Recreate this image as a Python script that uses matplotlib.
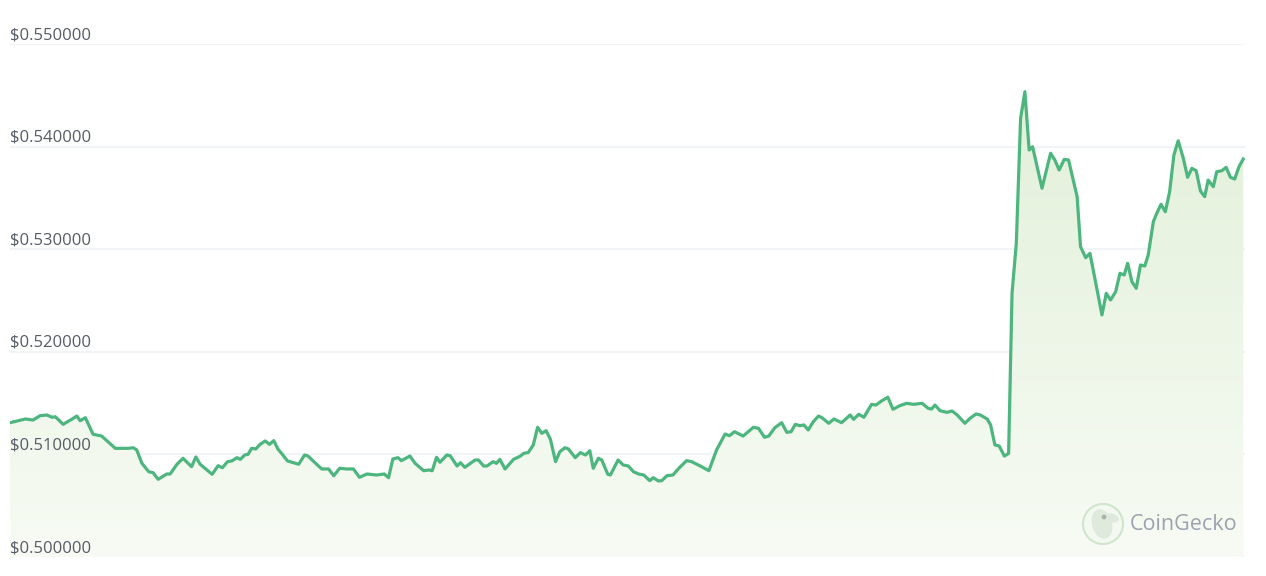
import matplotlib.pyplot as plt
import numpy as np
from matplotlib.patches import Circle, Ellipse
from matplotlib.colors import LinearSegmentedColormap

# Price data (minutes into the 24h window, USD)
minutes = [0, 18, 27, 35, 43, 49, 53, 62, 72, 78, 82, 88, 97, 107, 123, 138, 144, 148,
           154, 162, 167, 173, 183, 187, 195, 202, 212, 217, 222, 236, 243, 248, 254, 259,
           265, 269, 274, 278, 282, 287, 292, 298, 303, 308, 313, 317, 324, 337, 344, 348,
           358, 364, 372, 378, 385, 393, 401, 408, 417, 428, 437, 442, 447, 453, 457, 467,
           473, 483, 489, 493, 498, 502, 510, 514, 522, 526, 531, 543, 547, 553, 557, 564,
           568, 572, 578, 588, 596, 600, 605, 611, 616, 621, 626, 631, 637, 642, 648, 652,
           660, 666, 672, 677, 681, 687, 691, 698, 701, 710, 716, 722, 728, 734, 740, 747,
           751, 757, 761, 767, 774, 781, 790, 796, 806, 816, 825, 835, 840, 846, 856, 862,
           868, 874, 881, 886, 893, 901, 907, 912, 917, 922, 927, 932, 938, 944, 948, 956,
           962, 971, 981, 985, 991, 997, 1006, 1011, 1018, 1025, 1031, 1039, 1047, 1055,
           1065, 1072, 1076, 1080, 1086, 1094, 1100, 1106, 1115, 1121, 1128, 1133, 1141,
           1145, 1150, 1155, 1161, 1166, 1170, 1175, 1180, 1185, 1190, 1194, 1205, 1215,
           1220, 1225, 1231, 1236, 1246, 1250, 1256, 1261, 1275, 1280, 1285, 1291, 1296,
           1301, 1305, 1310, 1315, 1320, 1325, 1329, 1335, 1339, 1344, 1349, 1354, 1359,
           1364, 1370, 1375, 1380, 1385, 1390, 1395, 1399, 1405, 1409, 1415, 1420, 1425,
           1430, 1435, 1440]
prices = [0.51309, 0.51345, 0.51335, 0.51377, 0.51384, 0.51362, 0.51367, 0.51293, 0.51342,
          0.51374, 0.51328, 0.51358, 0.51196, 0.51179, 0.51059, 0.51059, 0.51065, 0.51043,
          0.50913, 0.50831, 0.50822, 0.50757, 0.50809, 0.50809, 0.50904, 0.50962, 0.50880,
          0.50975, 0.50904, 0.50806, 0.50890, 0.50870, 0.50929, 0.50936, 0.50968, 0.50952,
          0.50994, 0.51001, 0.51059, 0.51053, 0.51098, 0.51131, 0.51098, 0.51134, 0.51050,
          0.51011, 0.50936, 0.50904, 0.50994, 0.50984, 0.50904, 0.50858, 0.50858, 0.50792,
          0.50865, 0.50858, 0.50858, 0.50777, 0.50809, 0.50799, 0.50809, 0.50773, 0.50955,
          0.50968, 0.50939, 0.50984, 0.50913, 0.50841, 0.50848, 0.50841, 0.50972, 0.50923,
          0.50994, 0.50987, 0.50887, 0.50919, 0.50874, 0.50945, 0.50945, 0.50887, 0.50887,
          0.50929, 0.50913, 0.50952, 0.50858, 0.50952, 0.50984, 0.51011, 0.51017, 0.51092,
          0.51264, 0.51206, 0.51231, 0.51147, 0.50929, 0.51026, 0.51065, 0.51053, 0.50968,
          0.51017, 0.50994, 0.51036, 0.50865, 0.50962, 0.50945, 0.50806, 0.50799, 0.50945,
          0.50897, 0.50887, 0.50831, 0.50809, 0.50799, 0.50744, 0.50773, 0.50741, 0.50744,
          0.50792, 0.50799, 0.50865, 0.50939, 0.50929, 0.50887, 0.50841, 0.51043, 0.51199,
          0.51182, 0.51221, 0.51179, 0.51221, 0.51264, 0.51254, 0.51167, 0.51179, 0.51260,
          0.51309, 0.51215, 0.51221, 0.51293, 0.51280, 0.51287, 0.51238, 0.51319, 0.51374,
          0.51358, 0.51303, 0.51345, 0.51309, 0.51384, 0.51342, 0.51391, 0.51362, 0.51488,
          0.51481, 0.51523, 0.51557, 0.51440, 0.51475, 0.51498, 0.51488, 0.51498, 0.51449,
          0.51442, 0.51481, 0.51426, 0.51410, 0.51423, 0.51384, 0.51303, 0.51352, 0.51394,
          0.51384, 0.51345, 0.51287, 0.51092, 0.51082, 0.50984, 0.51009, 0.52570, 0.53058,
          0.54276, 0.54535, 0.53967, 0.53999, 0.53594, 0.53935, 0.53869, 0.53772, 0.53876,
          0.53869, 0.53512, 0.53024, 0.52917, 0.52960, 0.52359, 0.52570, 0.52505, 0.52586,
          0.52765, 0.52749, 0.52863, 0.52683, 0.52619, 0.52846, 0.52836, 0.52943, 0.53268,
          0.53350, 0.53438, 0.53365, 0.53560, 0.53918, 0.54057, 0.53886, 0.53701, 0.53788,
          0.53765, 0.53567, 0.53512, 0.53674, 0.53609, 0.53755, 0.53765, 0.53798, 0.53701,
          0.53684, 0.53804, 0.53879]

y_ticks = [0.50, 0.51, 0.52, 0.53, 0.54, 0.55]
y_labels = ['$0.500000', '$0.510000', '$0.520000', '$0.530000', '$0.540000', '$0.550000']

line_color = '#4db67f'
label_color = '#565b67'

fig = plt.figure(figsize=(12.66, 5.76), dpi=100)
ax = fig.add_axes([0.0079, 0.033, 0.9755, 0.8906])
ax.set_xlim(0, 1442)
ax.set_ylim(0.50, 0.55)

# grid lines
for v in y_ticks:
    ax.axhline(v, color='#eef2f6', lw=1.2, zorder=0)

# gradient fill under the line
x = np.array(minutes)
y = np.array(prices)
fill = ax.fill_between(x, y, 0.50, color='none', zorder=1)
cmap = LinearSegmentedColormap.from_list('g', ['#f7fbf4', '#e2f0d9'])
grad = np.linspace(0, 1, 256).reshape(-1, 1)
img = ax.imshow(grad, cmap=cmap, aspect='auto', origin='lower',
                extent=[0, 1442, 0.50, 0.546], zorder=1)
img.set_clip_path(fill.get_paths()[0], transform=ax.transData)

ax.plot(x, y, color=line_color, lw=2.3, solid_joinstyle='round', zorder=3)

# y labels drawn inside the plot, just above each grid line
for v, lab in zip(y_ticks, y_labels):
    ax.annotate(lab, xy=(0, v), xytext=(0, 3.5), textcoords='offset points',
                ha='left', va='baseline', fontsize=12, color=label_color,
                family='Open Sans', zorder=4)

for s in ax.spines.values():
    s.set_visible(False)
ax.set_xticks([])
ax.set_yticks([])

# CoinGecko watermark
lax = fig.add_axes([1081 / 1266, (576 - 546) / 576, 44 / 1266, 44 / 576])
lax.set_xlim(-1.1, 1.1)
lax.set_ylim(-1.1, 1.1)
lax.set_aspect('equal')
lax.axis('off')
lax.add_patch(Circle((0, 0), 1.0, facecolor='#f3f8f1', edgecolor='#d0e5cc', lw=1.5))
lax.add_patch(Ellipse((-0.05, 0.0), 1.0, 1.5, angle=15, facecolor='#dfe9dc', edgecolor='none'))
lax.add_patch(Ellipse((0.4, 0.3), 0.8, 0.45, angle=-10, facecolor='#dfe9dc', edgecolor='none'))
lax.add_patch(Circle((0.05, 0.35), 0.12, facecolor='#aab4a8', edgecolor='none'))

fig.text(1130 / 1266, (576 - 524) / 576, 'CoinGecko', fontsize=15.5, color='#9ca2ae',
         ha='left', va='center', family='Open Sans')

fig.savefig('out.png', dpi=100)
